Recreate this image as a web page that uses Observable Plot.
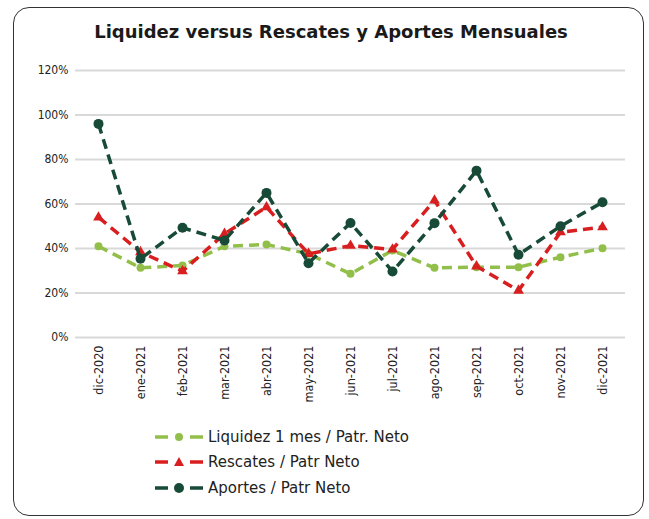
<!DOCTYPE html>
<html>
<head>
<meta charset="utf-8">
<script src="https://cdn.jsdelivr.net/npm/d3@7"></script>
<script src="https://cdn.jsdelivr.net/npm/@observablehq/plot@0.6"></script>
<style>
  html, body { margin: 0; padding: 0; background: #fff; }
  #wrap { position: relative; width: 649px; height: 519px; overflow: hidden; font-family: "DejaVu Sans", sans-serif; color: #222; }
  #frame { position: absolute; left: 13px; top: 7px; width: 631px; height: 509px; border: 1.5px solid #333; border-radius: 16px; box-sizing: border-box; }
  #title { position: absolute; left: 0; width: 662px; top: 21px; text-align: center; font-weight: bold; font-size: 18px; color: #1a1a1a; }
  #chart { position: absolute; left: 0; top: 55px; }
  #legend { position: absolute; left: 155px; top: 424px; font-size: 15px; }
  .item { display: flex; align-items: center; height: 25.5px; }
  .item svg { margin-right: 3px; }
</style>
</head>
<body>
<div id="wrap">
  <div id="frame"></div>
  <div id="title">Liquidez versus Rescates y Aportes Mensuales</div>
  <div id="chart"></div>
  <div id="legend"></div>
</div>
<script>
const months = ["dic-2020","ene-2021","feb-2021","mar-2021","abr-2021","may-2021","jun-2021","jul-2021","ago-2021","sep-2021","oct-2021","nov-2021","dic-2021"];
const liquidez = [41, 31.3, 32.4, 41, 41.8, 37.6, 28.6, 39.1, 31.3, 31.6, 31.6, 36.1, 40.1];
const rescates = [54, 38.4, 29.8, 46.6, 58.6, 37.6, 41.3, 39.6, 61.6, 32, 21.1, 47.3, 49.6];
const aportes  = [96, 35.4, 49.3, 43.6, 65, 33.4, 51.5, 29.7, 51.4, 75, 37.2, 50, 60.8];
const yTicks = [0, 20, 40, 60, 80, 100, 120];
const seriesNames = ["Liquidez 1 mes / Patr. Neto", "Rescates / Patr Neto", "Aportes / Patr Neto"];

const colors = ["#92bf4a", "#d81e1e", "#174a37"];
const symbols = ["circle", "triangle", "circle"];
const radii = [4, 4, 5];
const allSeries = [liquidez, rescates, aportes];

const marks = [
  Plot.gridY(yTicks, {stroke: "#d9d9d9", strokeOpacity: 1, strokeWidth: 2}),
  Plot.axisY(yTicks, {tickFormat: d => d + "%", tickSize: 0, tickPadding: 7, fontSize: 12, fill: "#222"}),
  Plot.axisX({tickRotate: -90, tickSize: 0, tickPadding: 8, fontSize: 12.5, fill: "#222"})
];
allSeries.forEach((vals, s) => {
  const rows = months.map((m, i) => ({m, v: vals[i]}));
  marks.push(Plot.line(rows, {x: "m", y: "v", stroke: colors[s], strokeWidth: 3.5, strokeDasharray: "10,6", strokeLinecap: "butt"}));
  marks.push(Plot.dot(rows, {x: "m", y: "v", fill: colors[s], stroke: "none", r: radii[s], symbol: symbols[s]}));
});

const chart = Plot.plot({
  width: 649,
  height: 365,
  marginLeft: 75,
  marginRight: 24,
  marginTop: 15,
  marginBottom: 83,
  style: {fontFamily: "'DejaVu Sans Condensed', 'DejaVu Sans', sans-serif", background: "transparent", color: "#222"},
  x: {type: "point", domain: months, padding: 0.5, label: null},
  y: {domain: [0, 120], label: null},
  marks
});
document.getElementById("chart").appendChild(chart);

const legend = document.getElementById("legend");
seriesNames.forEach((name, s) => {
  const item = document.createElement("div");
  item.className = "item";
  const shape = symbols[s] === "triangle"
    ? `<path d="M24,1 L29,10 L19,10 Z" fill="${colors[s]}"/>`
    : `<circle cx="24" cy="6" r="${s === 2 ? 5 : 4}" fill="${colors[s]}"/>`;
  item.innerHTML = `<svg width="50" height="12"><line x1="0" x2="13" y1="6" y2="6" stroke="${colors[s]}" stroke-width="3.5"/><line x1="35" x2="48" y1="6" y2="6" stroke="${colors[s]}" stroke-width="3.5"/>${shape}</svg><span>${name}</span>`;
  legend.appendChild(item);
});
</script>
</body>
</html>
